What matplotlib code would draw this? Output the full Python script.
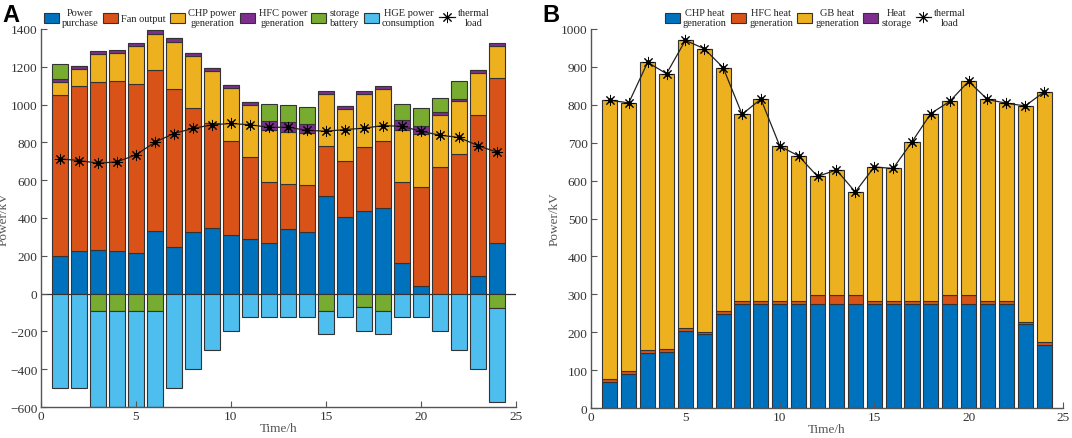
import matplotlib
matplotlib.use("Agg")
import matplotlib.pyplot as plt
import numpy as np

# hours
hours = np.arange(1, 25)

# panel A - electric power balance (kW)
power_purchase = [200, 228, 231, 224, 217, 332, 245, 326, 347, 310, 288, 268,
                  344, 325, 519, 406, 437, 455, 162, 41, 0, 0, 95, 268]
fan_output = [850, 870, 890, 900, 890, 850, 840, 655, 555, 500, 435, 320,
              235, 247, 262, 293, 340, 350, 430, 525, 670, 740, 850, 875]
chp_power = [70, 91, 146, 148, 202, 194, 248, 275, 275, 278, 277, 277,
             277, 276, 276, 276, 277, 279, 275, 276, 275, 277, 222, 166]
hfc_power = [15, 16, 16, 15, 17, 18, 18, 17, 15, 16, 16, 46,
             52, 48, 15, 16, 16, 15, 49, 47, 18, 14, 14, 15]
storage_battery = [80, 0, -90, -90, -90, -90, 0, 0, 0, 0, 0, 92,
                   92, 90, -90, 0, -70, -90, 89, 92, 70, 93, 0, -75]
hge_consumption = [-500, -500, -510, -510, -510, -510, -500, -400, -300, -200, -125, -125,
                   -125, -125, -125, -125, -130, -125, -125, -125, -200, -300, -400, -500]
thermal_load_a = [713, 704, 690, 697, 734, 801, 847, 874, 893, 900, 893, 880,
                  880, 864, 859, 868, 875, 889, 885, 859, 838, 826, 783, 748]

# panel B - heat balance (kW)
chp_heat = [68, 91, 146, 147, 202, 194, 248, 275, 275, 275, 275, 275,
            275, 275, 275, 275, 275, 275, 275, 275, 275, 275, 221, 165]
hfc_heat = [8, 7, 6, 8, 8, 7, 7, 8, 8, 8, 8, 22,
            24, 22, 8, 8, 8, 8, 22, 22, 8, 8, 7, 8]
gb_heat = [736, 707, 760, 727, 760, 747, 643, 492, 532, 408, 382, 314,
           329, 273, 353, 349, 419, 494, 512, 565, 531, 521, 569, 661]
heat_storage = [0] * 24
thermal_load_b = [812, 805, 912, 882, 970, 948, 898, 775, 815, 691, 665, 611,
                  628, 570, 636, 632, 702, 777, 809, 862, 814, 804, 797, 834]

c_blue = '#0072BD'
c_orange = '#D95319'
c_yellow = '#EDB120'
c_purple = '#7E2F8E'
c_green = '#77AC30'
c_lblue = '#4DBEEE'
edge = '#333333'
txt = '#333333'

plt.rcParams['font.family'] = ['Liberation Serif', 'DejaVu Serif']
plt.rcParams['font.size'] = 9

fig = plt.figure(figsize=(10.72, 4.39), dpi=100)
axA = fig.add_axes([0.0382, 0.0706, 0.4431, 0.8611])
axB = fig.add_axes([0.5513, 0.0683, 0.4403, 0.8634])

w = 0.8
bar_kw = dict(width=w, edgecolor=edge, linewidth=0.8)
star = (8, 2, 0)


def stack(ax, x, series, colors, labels):
    pos = np.zeros(len(x))
    neg = np.zeros(len(x))
    handles = []
    for vals, col, lab in zip(series, colors, labels):
        v = np.asarray(vals, dtype=float)
        bottom = np.where(v >= 0, pos, neg)
        h = ax.bar(x, v, bottom=bottom, color=col, label=lab, **bar_kw)
        pos = pos + np.where(v >= 0, v, 0)
        neg = neg + np.where(v < 0, v, 0)
        handles.append(h)
    return handles


def style(ax):
    for s in ['top', 'right']:
        ax.spines[s].set_visible(False)
    for s in ['left', 'bottom']:
        ax.spines[s].set_color('#555555')
        ax.spines[s].set_linewidth(1.0)
    ax.tick_params(direction='in', length=4, pad=2.5, colors='#555555', labelcolor=txt,
                   labelsize=9.5)
    ax.set_xlim(0, 25)
    ax.set_xticks([0, 5, 10, 15, 20, 25])
    ax.set_xlabel('Time/h', color='#555555', fontsize=9.5, labelpad=0)
    ax.set_ylabel('Power/kV', color='#555555', fontsize=9.5, labelpad=0)


def add_legend(ax, handles, ncol, xc):
    leg = ax.legend(handles=handles, loc='lower center', bbox_to_anchor=(xc, 1.0),
                    ncol=ncol, frameon=False, fontsize=7.5, handlelength=1.45,
                    handleheight=1.15, handletextpad=0.3, columnspacing=0.4,
                    borderaxespad=0.15, borderpad=0.0)
    for t in leg.get_texts():
        t.set_multialignment('center')
        t.set_color('#222222')
    return leg


# ---- panel A ----
hA = stack(axA, hours,
           [power_purchase, fan_output, chp_power, hfc_power, storage_battery, hge_consumption],
           [c_blue, c_orange, c_yellow, c_purple, c_green, c_lblue],
           ['Power\npurchase', 'Fan output', 'CHP power\ngeneration', 'HFC power\ngeneration',
            'storage\nbattery', 'HGE power\nconsumption'])
axA.axhline(0, color='#333333', lw=0.9, zorder=0.5)
lA, = axA.plot(hours, thermal_load_a, color='#222222', lw=0.9, marker=star,
               markersize=8, markeredgewidth=0.7, markeredgecolor='k',
               label='thermal\nload', zorder=5)
axA.plot(hours, thermal_load_a, ls='none', marker='o', markersize=2.5, color='k', zorder=6)
axA.set_ylim(-600, 1400)
axA.set_yticks(np.arange(-600, 1401, 200))
style(axA)
add_legend(axA, hA + [lA], 7, 0.475)

# ---- panel B ----
hB = stack(axB, hours,
           [chp_heat, hfc_heat, gb_heat, heat_storage],
           [c_blue, c_orange, c_yellow, c_purple],
           ['CHP heat\ngeneration', 'HFC heat\ngeneration', 'GB heat\ngeneration', 'Heat\nstorage'])
lB, = axB.plot(hours, thermal_load_b, color='#222222', lw=0.9, marker=star,
               markersize=8, markeredgewidth=0.7, markeredgecolor='k',
               label='thermal\nload', zorder=5)
axB.plot(hours, thermal_load_b, ls='none', marker='o', markersize=2.5, color='k', zorder=6)
axB.set_ylim(0, 1000)
axB.set_yticks(np.arange(0, 1001, 100))
style(axB)
add_legend(axB, hB + [lB], 5, 0.475)

# panel letters
fig.text(0.002, 0.99, 'A', fontsize=17, fontweight='bold', va='top', ha='left',
         family=['Liberation Sans', 'DejaVu Sans'])
fig.text(0.506, 0.99, 'B', fontsize=17, fontweight='bold', va='top', ha='left',
         family=['Liberation Sans', 'DejaVu Sans'])

fig.savefig('out.png', dpi=100)
